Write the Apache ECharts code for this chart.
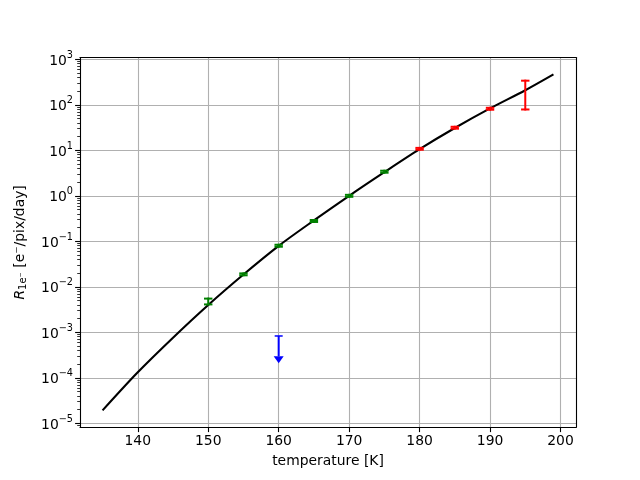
<!DOCTYPE html>
<html>
<head>
<meta charset="utf-8">
<script src="https://cdn.jsdelivr.net/npm/echarts@6/dist/echarts.min.js"></script>
<style>
    html, body { margin: 0; padding: 0; background: #fff; }
    #chart { width: 640px; height: 480px; }
</style>
</head>
<body>
<div id="chart"></div>
<script>
    // model curve
    var curveT = [135, 140, 145, 150, 155, 160, 165, 170, 175, 180, 185, 190, 195, 199];
    var curveR = [1.92e-5, 1.32e-4, 7.6e-4, 3.98e-3, 0.0186, 0.0794, 0.288, 1.0, 3.31, 10.6, 30.9, 83.2, 209, 466];

    // green measurements
    var greenT = [150, 155, 160, 165, 170, 175];
    var greenR = [4.7e-3, 0.0188, 0.080, 0.28, 1.0, 3.39];
    var greenLo = [4.1e-3, 0.0179, 0.076, 0.266, 0.95, 3.22];
    var greenHi = [5.5e-3, 0.0197, 0.084, 0.294, 1.05, 3.56];

    // red measurements
    var redT = [180, 185, 190, 195];
    var redR = [10.8, 31.4, 82, 219];
    var redLo = [10.3, 29.9, 78, 79];
    var redHi = [11.3, 32.9, 86, 339];

    // blue upper limit
    var limT = [160];
    var limR = [8.3e-4];
    var limTip = [2.1e-4];

    var xTicks = [140, 150, 160, 170, 180, 190, 200];
    var yTicks = [-5, -4, -3, -2, -1, 0, 1, 2, 3];

    var lg = Math.log10;

    // matplotlib style 5% margins
    var cLog = curveR.map(lg);
    var yLo = Math.min.apply(null, cLog), yHi = Math.max.apply(null, cLog);
    var yMin = yLo - 0.05 * (yHi - yLo), yMax = yHi + 0.05 * (yHi - yLo);
    var xLo = curveT[0], xHi = curveT[curveT.length - 1];
    var xMin = xLo - 0.05 * (xHi - xLo), xMax = xHi + 0.05 * (xHi - xLo);

    var minorTicks = [];
    for (var d = -6; d <= 3; d++) {
        for (var k = 2; k <= 9; k++) {
            var v = d + lg(k);
            if (v > yMin && v < yMax) minorTicks.push(v);
        }
    }

    var font = 'DejaVu Sans';
    var fs = 13.9;

    function supLabel(v) {
        var n = Math.round(v);
        return '{b|10}{s|' + (n < 0 ? '\u2212' + (-n) : n) + '}';
    }

    function errRender(color, cap) {
        return function (params, api) {
            var x = api.value(0);
            var lo = api.coord([x, api.value(2)]);
            var hi = api.coord([x, api.value(3)]);
            var st = { stroke: color, lineWidth: 2 };
            return {
                type: 'group',
                children: [
                    { type: 'line', shape: { x1: lo[0], y1: lo[1] + 1, x2: hi[0], y2: hi[1] - 1 }, style: st },
                    { type: 'line', shape: { x1: lo[0] - cap, y1: lo[1], x2: lo[0] + cap, y2: lo[1] }, style: st },
                    { type: 'line', shape: { x1: hi[0] - cap, y1: hi[1], x2: hi[0] + cap, y2: hi[1] }, style: st }
                ]
            };
        };
    }

    function limRender(params, api) {
        var x = api.value(0);
        var top = api.coord([x, api.value(1)]);
        var tip = api.coord([x, api.value(2)]);
        var head = 7, half = 5;
        return {
            type: 'group',
            children: [
                { type: 'line', shape: { x1: top[0], y1: top[1], x2: tip[0], y2: tip[1] - head }, style: { stroke: '#0000ff', lineWidth: 2 } },
                { type: 'line', shape: { x1: top[0] - 4, y1: top[1], x2: top[0] + 4, y2: top[1] }, style: { stroke: '#0000ff', lineWidth: 1.5 } },
                { type: 'polygon', shape: { points: [[tip[0] - half, tip[1] - head], [tip[0] + half, tip[1] - head], [tip[0], tip[1]]] }, style: { fill: '#0000ff' } }
            ]
        };
    }

    function errData(T, R, lo, hi) {
        return T.map(function (t, i) { return [t, lg(R[i]), lg(lo[i]), lg(hi[i])]; });
    }

    var chart = echarts.init(document.getElementById('chart'));

    var option = {
        animation: false,
        backgroundColor: '#fff',
        textStyle: { fontFamily: font },
        grid: { left: 80, right: 64, top: 57.6, bottom: 52.8 },
        xAxis: [{
            type: 'value',
            min: xMin,
            max: xMax,
            name: 'temperature [K]',
            nameLocation: 'middle',
            nameGap: 27,
            nameTextStyle: { fontFamily: font, fontSize: fs, color: '#000' },
            axisLine: { onZero: false, lineStyle: { color: '#000', width: 1.1 } },
            axisTick: { customValues: xTicks, length: 4.9, lineStyle: { color: '#000', width: 1.1 } },
            axisLabel: { customValues: xTicks, fontFamily: font, fontSize: fs, color: '#000', margin: 7 },
            splitLine: { show: true, lineStyle: { color: '#b0b0b0', width: 1.1 } }
        }, {
            type: 'value',
            position: 'top',
            min: xMin,
            max: xMax,
            axisLine: { show: true, onZero: false, lineStyle: { color: '#000', width: 1.1 } },
            axisTick: { show: false },
            axisLabel: { show: false },
            splitLine: { show: false }
        }],
        yAxis: [{
            type: 'value',
            min: yMin,
            max: yMax,
            name: '{it|R}{sub|1e\u207B} [e\u207B/pix/day]',
            nameLocation: 'middle',
            nameGap: 52,
            nameTextStyle: {
                fontFamily: font, fontSize: fs, color: '#000',
                rich: {
                    it: { fontFamily: font, fontSize: fs, fontStyle: 'italic', color: '#000' },
                    sub: { fontFamily: font, fontSize: 10, color: '#000', padding: [6, 0, 0, 0] }
                }
            },
            axisLine: { onZero: false, lineStyle: { color: '#000', width: 1.1 } },
            axisTick: { customValues: yTicks, length: 4.9, lineStyle: { color: '#000', width: 1.1 } },
            axisLabel: {
                customValues: yTicks,
                margin: 7,
                formatter: supLabel,
                rich: {
                    b: { fontFamily: font, fontSize: fs, color: '#000', lineHeight: 18, verticalAlign: 'bottom' },
                    s: { fontFamily: font, fontSize: 9.7, color: '#000', lineHeight: 10, verticalAlign: 'top' }
                }
            },
            splitLine: { show: true, lineStyle: { color: '#b0b0b0', width: 1.1 } }
        }, {
            type: 'value',
            min: yMin,
            max: yMax,
            position: 'left',
            axisLine: { show: false },
            axisTick: { show: true, customValues: minorTicks, length: 2.8, lineStyle: { color: '#000', width: 0.8 } },
            axisLabel: { show: false },
            splitLine: { show: false }
        }, {
            type: 'value',
            min: yMin,
            max: yMax,
            position: 'right',
            axisLine: { show: true, onZero: false, lineStyle: { color: '#000', width: 1.1 } },
            axisTick: { show: false },
            axisLabel: { show: false },
            splitLine: { show: false }
        }],
        series: [{
            type: 'line',
            data: curveT.map(function (t, i) { return [t, cLog[i]]; }),
            smooth: 0.3,
            showSymbol: false,
            lineStyle: { color: '#000', width: 2.1 },
            z: 3
        }, {
            type: 'custom',
            data: errData(greenT, greenR, greenLo, greenHi),
            renderItem: errRender('#008000', 4.2),
            z: 4
        }, {
            type: 'custom',
            data: errData(redT, redR, redLo, redHi),
            renderItem: errRender('#ff0000', 4.2),
            z: 4
        }, {
            type: 'custom',
            data: limT.map(function (t, i) { return [t, lg(limR[i]), lg(limTip[i])]; }),
            renderItem: limRender,
            z: 4
        }]
    };

    chart.setOption(option);
</script>
</body>
</html>
